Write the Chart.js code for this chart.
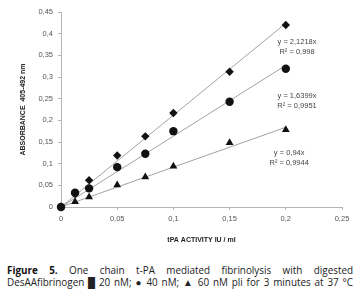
<!DOCTYPE html>
<html>
<head>
<meta charset="utf-8">
<script src="https://cdn.jsdelivr.net/npm/chart.js@4/dist/chart.umd.min.js"></script>
<style>
  html, body { margin: 0; padding: 0; background: #fff; }
  #wrap { position: relative; width: 360px; height: 297px; overflow: hidden; }
  #chartBox { position: absolute; left: 0; top: 0; width: 360px; height: 255px; }
  .cap { position: absolute; left: 7px; width: 346px; font-family: "Open Sans", "Noto Sans", sans-serif;
         font-size: 9.9px; color: #222; white-space: nowrap; text-align: justify; text-align-last: justify; line-height: 12px; }
  .cap b { font-weight: 700; color: #111; }
</style>
</head>
<body>
<div id="wrap">
  <div id="chartBox"><canvas id="fibChart"></canvas></div>
  <div class="cap" style="top:264px"><b>Figure 5.</b> One chain t-PA mediated fibrinolysis with digested</div>
  <div class="cap" style="top:276px">DesAAfibrinogen █ 20 nM; ● 40 nM; ▲ 60 nM pli for 3 minutes at 37 °C</div>
</div>
<script>
  // tPA activity (IU/ml)
  const activity = [0, 0.0125, 0.025, 0.05, 0.075, 0.1, 0.15, 0.2];
  // absorbance 405-492 nm per fibrinogen concentration
  const abs20nM = [0, 0.030, 0.062, 0.119, 0.163, 0.217, 0.312, 0.420];
  const abs40nM = [0, 0.033, 0.043, 0.092, 0.123, 0.175, 0.243, 0.319];
  const abs60nM = [0, 0.012, 0.023, 0.051, 0.069, 0.094, 0.148, 0.178];
  // fitted trendline ends
  const trendX = [0, 0.2];
  const trend20 = [0, 0.424];
  const trend40 = [0, 0.327];
  const trend60 = [0, 0.184];
  const xTicks = [0, 0.05, 0.1, 0.15, 0.2, 0.25];
  const yTicks = [0, 0.05, 0.1, 0.15, 0.2, 0.25, 0.3, 0.35, 0.4, 0.45];
  // equation labels: text lines and data-space anchor
  const eqLabels = [
    { lines: ['y = 2,1218x', 'R² = 0,998'], x: 0.21, y: 0.382 },
    { lines: ['y = 1,6399x', 'R² = 0,9951'], x: 0.21, y: 0.256 },
    { lines: ['y = 0,94x', 'R² = 0,9944'], x: 0.203, y: 0.124 }
  ];

  const toPoints = (xs, ys) => xs.map((x, i) => ({ x: x, y: ys[i] }));
  const fmt = v => String(parseFloat(Number(v).toFixed(3))).replace('.', ',');

  const eqPlugin = {
    id: 'eqLabels',
    afterDatasetsDraw(chart) {
      const ctx = chart.ctx;
      const xs = chart.scales.x, ys = chart.scales.y;
      ctx.save();
      ctx.font = '7.5px "Liberation Sans", Arial, sans-serif';
      ctx.fillStyle = '#444';
      ctx.textAlign = 'center';
      ctx.textBaseline = 'middle';
      eqLabels.forEach(l => {
        const px = xs.getPixelForValue(l.x);
        const py = ys.getPixelForValue(l.y);
        l.lines.forEach((t, i) => ctx.fillText(t, px, py + i * 10));
      });
      ctx.restore();
    }
  };

  const pointSet = (label, data, style, r) => ({
    label: label,
    data: toPoints(activity, data),
    pointStyle: style,
    pointRadius: r,
    backgroundColor: '#111',
    borderColor: '#111',
    borderWidth: 0,
    showLine: false,
    clip: false
  });
  const trendSet = (data) => ({
    type: 'line',
    data: toPoints(trendX, data),
    borderColor: '#8a8a8a',
    borderWidth: 0.8,
    pointRadius: 0,
    fill: false
  });

  new Chart(document.getElementById('fibChart').getContext('2d'), {
    type: 'scatter',
    data: {
      datasets: [
        pointSet('20 nM', abs20nM, 'rectRot', 4.2),
        pointSet('40 nM', abs40nM, 'circle', 4.2),
        pointSet('60 nM', abs60nM, 'triangle', 4.5),
        trendSet(trend20),
        trendSet(trend40),
        trendSet(trend60)
      ]
    },
    options: {
      responsive: true,
      maintainAspectRatio: false,
      animation: false,
      layout: { padding: { left: 0, top: 12, right: 18, bottom: 0 } },
      plugins: { legend: { display: false }, tooltip: { enabled: false } },
      scales: {
        x: {
          type: 'linear', min: 0, max: 0.25,
          afterBuildTicks: s => { s.ticks = xTicks.map(v => ({ value: v })); },
          afterFit: s => { s.height = 48; },
          grid: { drawOnChartArea: false, drawTicks: true, tickLength: 3, color: '#b5b5b5' },
          border: { color: '#b5b5b5' },
          ticks: { color: '#555', padding: 4, font: { family: 'Liberation Sans', size: 7.5 }, callback: fmt },
          title: { display: true, text: 'tPA ACTIVITY IU / ml', color: '#222',
                   font: { family: 'Liberation Sans', size: 7, weight: 'bold' }, padding: { top: 0, bottom: 11 } }
        },
        y: {
          type: 'linear', min: 0, max: 0.45,
          afterBuildTicks: s => { s.ticks = yTicks.map(v => ({ value: v })); },
          afterFit: s => { s.width = 61; },
          grid: { drawOnChartArea: false, drawTicks: true, tickLength: 3, color: '#b5b5b5' },
          border: { color: '#b5b5b5' },
          ticks: { color: '#555', padding: 5, font: { family: 'Liberation Sans', size: 7.5 }, callback: fmt },
          title: { display: true, text: 'ABSORBANCE  405-492 nm', color: '#222',
                   font: { family: 'Liberation Sans', size: 7, weight: 'bold' }, padding: { top: 19, bottom: 0 } }
        }
      }
    },
    plugins: [eqPlugin]
  });
</script>
</body>
</html>
